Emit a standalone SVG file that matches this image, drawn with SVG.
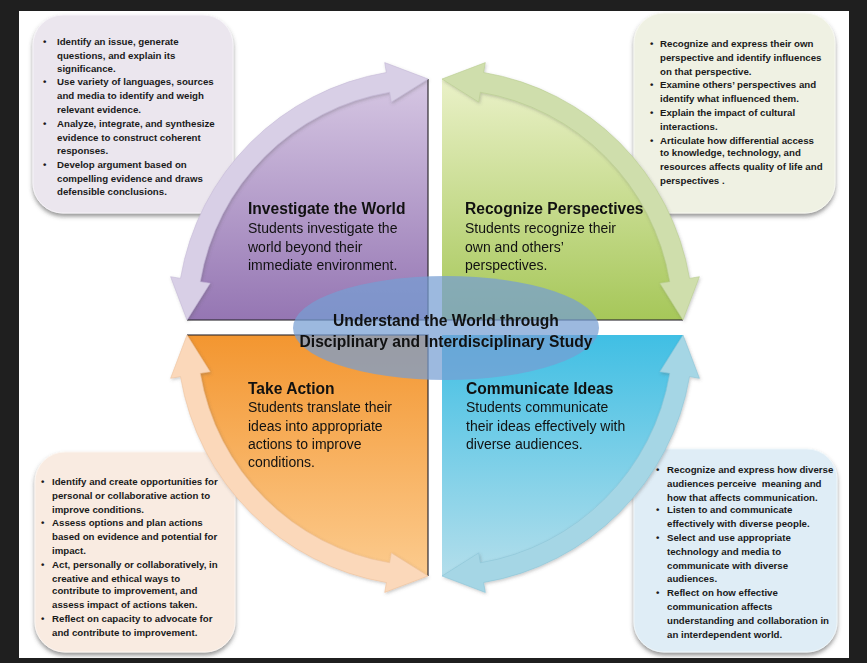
<svg xmlns="http://www.w3.org/2000/svg" xmlns:xlink="http://www.w3.org/1999/xlink" width="867" height="663" viewBox="0 0 867 663">
<style>
.bx{font-family:"Liberation Sans",Arial,sans-serif;font-weight:bold;font-size:9.7px;fill:#1a1a1a}
.tt{font-family:"Liberation Sans",Arial,sans-serif;font-weight:bold;font-size:15.6px;fill:#111}
.st{font-family:"Liberation Sans",Arial,sans-serif;font-size:14px;fill:#111}
.ct{font-family:"Liberation Sans",Arial,sans-serif;font-weight:bold;font-size:15.6px;fill:#111;text-anchor:middle}
.edge{stroke:#2e2a30;stroke-opacity:.75;stroke-width:1.6;fill:none}
</style>
<defs>
<linearGradient id="gP" x1="0" y1="0" x2="0" y2="1"><stop offset="0" stop-color="#d6c7e3"/><stop offset="1" stop-color="#9576b3"/></linearGradient>
<linearGradient id="gG" x1="0" y1="0" x2="0" y2="1"><stop offset="0" stop-color="#eaf1c8"/><stop offset="1" stop-color="#a6c759"/></linearGradient>
<linearGradient id="gO" x1="0" y1="0" x2="0" y2="1"><stop offset="0" stop-color="#f39630"/><stop offset="1" stop-color="#fccb8e"/></linearGradient>
<linearGradient id="gB" x1="0" y1="0" x2="0" y2="1"><stop offset="0" stop-color="#40bfe4"/><stop offset="1" stop-color="#b3deeb"/></linearGradient>
<filter id="sh" x="-10%" y="-10%" width="120%" height="125%"><feDropShadow dx="0" dy="3" stdDeviation="2" flood-color="#444" flood-opacity="0.55"/></filter>
<filter id="ash" x="-10%" y="-10%" width="120%" height="120%"><feDropShadow dx="1" dy="1.5" stdDeviation="1.5" flood-color="#555" flood-opacity="0.3"/></filter>
<path id="arw" d="M0,-241 L-43.3,-257.4 L-41.6,-247.5 A251,251 0 0 0 -247.5,-41.6 L-257.4,-43.3 L-241,0 L-217.9,-36.7 L-227.8,-38.3 A231,231 0 0 1 -38.3,-227.8 L-36.7,-217.9 Z"/>
</defs>
<rect x="0" y="0" width="867" height="663" fill="#1f1f1f"/>
<rect x="19" y="11" width="830" height="647" fill="#ffffff"/>

<g id="box-investigate">
<rect x="33" y="15" width="200" height="198" rx="30" fill="#ebe6ee" stroke="#f6f3f8" filter="url(#sh)"/>
<text class="bx">
<tspan x="43" y="45.1">•</tspan><tspan x="57" y="45.1">Identify an issue, generate</tspan>
<tspan x="57" y="59.1">questions, and explain its</tspan>
<tspan x="57" y="72.4">significance.</tspan>
<tspan x="43" y="85.1">•</tspan><tspan x="57" y="85.1">Use variety of languages, sources</tspan>
<tspan x="57" y="99.1">and media to identify and weigh</tspan>
<tspan x="57" y="113.1">relevant evidence.</tspan>
<tspan x="43" y="127.1">•</tspan><tspan x="57" y="127.1">Analyze, integrate, and synthesize</tspan>
<tspan x="57" y="141.1">evidence to construct coherent</tspan>
<tspan x="57" y="154.4">responses.</tspan>
<tspan x="43" y="168.1">•</tspan><tspan x="57" y="168.1">Develop argument based on</tspan>
<tspan x="57" y="182.1">compelling evidence and draws</tspan>
<tspan x="57" y="195.4">defensible conclusions.</tspan>
</text>
</g>

<g id="box-recognize">
<rect x="634" y="13" width="201" height="200" rx="30" fill="#eff1e3" stroke="#f7f8f0" filter="url(#sh)"/>
<text class="bx">
<tspan x="650" y="46.7">•</tspan><tspan x="660" y="46.7">Recognize and express their own</tspan>
<tspan x="660" y="61.1">perspective and identify influences</tspan>
<tspan x="660" y="75.1">on that perspective.</tspan>
<tspan x="650" y="88.1">•</tspan><tspan x="660" y="88.1">Examine others’ perspectives and</tspan>
<tspan x="660" y="102.1">identify what influenced them.</tspan>
<tspan x="650" y="116.1">•</tspan><tspan x="660" y="116.1">Explain the impact of cultural</tspan>
<tspan x="660" y="130.1">interactions.</tspan>
<tspan x="650" y="143.7">•</tspan><tspan x="660" y="143.7">Articulate how differential access</tspan>
<tspan x="660" y="156.1">to knowledge, technology, and</tspan>
<tspan x="660" y="170.1">resources affects quality of life and</tspan>
<tspan x="660" y="184.1">perspectives .</tspan>
</text>
</g>

<g id="box-action">
<rect x="35" y="452" width="200" height="200" rx="30" fill="#f9ebe1" stroke="#fcf5f0" filter="url(#sh)"/>
<text class="bx">
<tspan x="41" y="485.1">•</tspan><tspan x="52" y="485.1">Identify and create opportunities for</tspan>
<tspan x="52" y="499.1">personal or collaborative action to</tspan>
<tspan x="52" y="513.1">improve conditions.</tspan>
<tspan x="41" y="526.1">•</tspan><tspan x="52" y="526.1">Assess options and plan actions</tspan>
<tspan x="52" y="540.1">based on evidence and potential for</tspan>
<tspan x="52" y="554.1">impact.</tspan>
<tspan x="41" y="568.1">•</tspan><tspan x="52" y="568.1">Act, personally or collaboratively, in</tspan>
<tspan x="52" y="582.1">creative and ethical ways to</tspan>
<tspan x="52" y="594.1">contribute to improvement, and</tspan>
<tspan x="52" y="608.1">assess impact of actions taken.</tspan>
<tspan x="41" y="622.1">•</tspan><tspan x="52" y="622.1">Reflect on capacity to advocate for</tspan>
<tspan x="52" y="636.1">and contribute to improvement.</tspan>
</text>
</g>

<g id="box-communicate">
<rect x="634" y="449" width="203" height="203" rx="30" fill="#dfedf6" stroke="#eef6fa" filter="url(#sh)"/>
<text class="bx">
<tspan x="656" y="473.1">•</tspan><tspan x="667" y="473.1">Recognize and express how diverse</tspan>
</text>
<text class="bx" xml:space="preserve" x="667" y="487.1">audiences perceive  meaning and</text>
<text class="bx">
<tspan x="667" y="501.1">how that affects communication.</tspan>
<tspan x="656" y="513.1">•</tspan><tspan x="667" y="513.1">Listen to and communicate</tspan>
<tspan x="667" y="527.1">effectively with diverse people.</tspan>
<tspan x="656" y="541.1">•</tspan><tspan x="667" y="541.1">Select and use appropriate</tspan>
<tspan x="667" y="555.1">technology and media to</tspan>
<tspan x="667" y="569.1">communicate with diverse</tspan>
<tspan x="667" y="582.1">audiences.</tspan>
<tspan x="656" y="596.1">•</tspan><tspan x="667" y="596.1">Reflect on how effective</tspan>
<tspan x="667" y="610.1">communication affects</tspan>
<tspan x="667" y="624.1">understanding and collaboration in</tspan>
<tspan x="667" y="638.1">an interdependent world.</tspan>
</text>
</g>

<g id="investigate">
<path d="M428,320 L428,79 A241,241 0 0 0 187,320 Z" fill="url(#gP)"/>
<path class="edge" d="M428,79 L428,320 L187,320"/>
</g>
<g id="recognize">
<path d="M442,320 L442,79 A241,241 0 0 1 683,320 Z" fill="url(#gG)"/>
<path class="edge" d="M442,320 L683,320" stroke="#3d4a25"/>
</g>
<g id="action">
<path d="M428,335 L187,335 A241,241 0 0 0 428,576 Z" fill="url(#gO)"/>
<path class="edge" d="M187,335 L428,335 L428,576"/>
</g>
<g id="communicate">
<path d="M442,335 L683,335 A241,241 0 0 1 442,576 Z" fill="url(#gB)"/>
</g>

<g id="connectors" filter="url(#ash)">
<use href="#arw" xlink:href="#arw" transform="translate(428,320)" fill="#d8cfe6" stroke="#c4b8d6" stroke-width="0.6"/>
<use href="#arw" xlink:href="#arw" transform="translate(442,320) scale(-1,1)" fill="#cfdeac" stroke="#b9cc90" stroke-width="0.6"/>
<use href="#arw" xlink:href="#arw" transform="translate(428,335) scale(1,-1)" fill="#fbd8ba" stroke="#efc39e" stroke-width="0.6"/>
<use href="#arw" xlink:href="#arw" transform="translate(442,335) scale(-1,-1)" fill="#a5d6e5" stroke="#8cc4d6" stroke-width="0.6"/>
</g>

<g id="investigate-label">
<text class="tt" x="248" y="213.5">Investigate the World</text>
<text class="st"><tspan x="248" y="233">Students investigate the</tspan><tspan x="248" y="251.5">world beyond their</tspan><tspan x="248" y="269.8">immediate environment.</tspan></text>
</g>
<g id="recognize-label">
<text class="tt" x="465" y="213.5">Recognize Perspectives</text>
<text class="st"><tspan x="465" y="233">Students recognize their</tspan><tspan x="465" y="251.5">own and others’</tspan><tspan x="465" y="269.8">perspectives.</tspan></text>
</g>
<g id="action-label">
<text class="tt" x="248" y="394">Take Action</text>
<text class="st"><tspan x="248" y="412">Students translate their</tspan><tspan x="248" y="430.6">ideas into appropriate</tspan><tspan x="248" y="449">actions to improve</tspan><tspan x="248" y="467.3">conditions.</tspan></text>
</g>
<g id="communicate-label">
<text class="tt" x="466" y="394">Communicate Ideas</text>
<text class="st"><tspan x="466" y="412">Students communicate</tspan><tspan x="466" y="430.6">their ideas effectively with</tspan><tspan x="466" y="449">diverse audiences.</tspan></text>
</g>

<g id="center">
<ellipse cx="446" cy="328" rx="153" ry="52" fill="#769ed3" fill-opacity="0.72"/>
<text class="ct" x="446" y="325.6">Understand the World through</text>
<text class="ct" x="446" y="347.3">Disciplinary and Interdisciplinary Study</text>
</g>
</svg>
